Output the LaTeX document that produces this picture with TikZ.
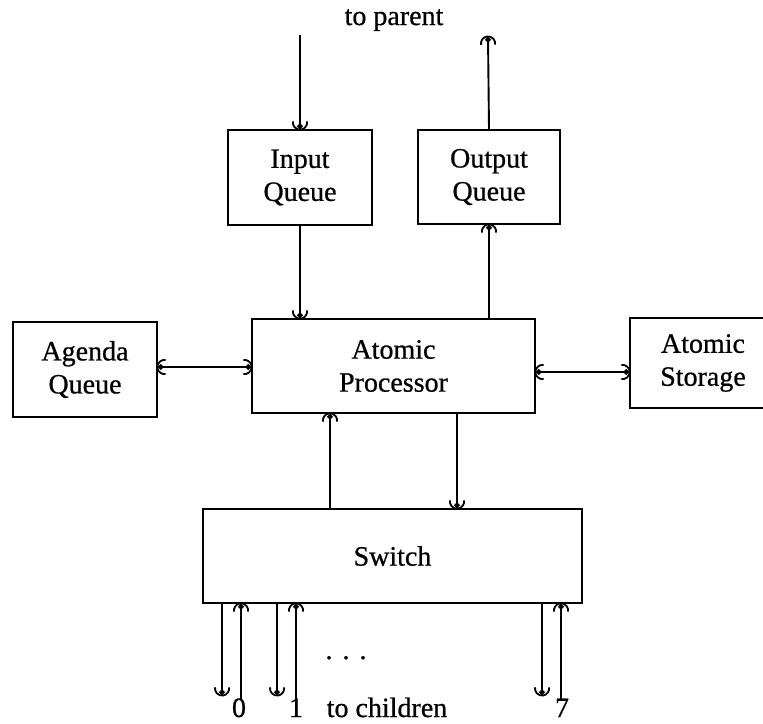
\documentclass[tikz,border=0pt]{standalone}
\usepackage{fontspec}
\setmainfont{Liberation Serif}
\newfontfamily\labelfont{Liberation Serif}[FakeBold=0.7]
\usetikzlibrary{arrows.meta,calc}

\tikzset{
  unit/.style={draw, line width=1.9pt, align=center, inner sep=0pt,
    font=\labelfont\fontsize{28}{33}\selectfont},
  lbl/.style={font=\labelfont\fontsize{28}{33}\selectfont, inner sep=0pt, anchor=base},
  fork/.tip={Arc Barb[length=8pt,arc=200,line width=1.8pt,sep=-7pt]Circle[length=5.5pt,width=5.5pt]},
  flow/.style={line width=1.9pt, -{fork}},
  flowboth/.style={line width=1.9pt, {fork}-{fork}},
}

\begin{document}
\begin{tikzpicture}[x=1pt,y=-1pt]
  \clip (0,0) rectangle (763,723);
  \fill[white] (0,0) rectangle (763,723);

  % processing units
  \node[unit, minimum width=144pt, minimum height=95pt] (inq) at (300,177.5) {Input\\Queue};
  \node[unit, minimum width=142pt, minimum height=94pt] (outq) at (489,177) {Output\\Queue};
  \node[unit, minimum width=283pt, minimum height=94pt] (proc) at (393.5,366) {Atomic\\Processor};
  \node[unit, minimum width=144pt, minimum height=95pt] (agenda) at (85,369.5) {Agenda\\Queue};
  \node[unit, minimum width=146pt, minimum height=90pt] (store) at (703,363) {Atomic\\Storage};
  \node[unit, minimum width=379pt, minimum height=94pt] (switch) at (392.5,556) {Switch};

  % link to the parent
  \node[lbl] (parent) at (394,25) {to parent};
  \coordinate (pin) at (300,35);
  \coordinate (pout) at (488,37);
  \draw[flow] (pin) -- (inq.north);
  \draw[flow] (outq.north) -- (pout);

  % queues and processor
  \draw[flow] (inq.south) -- (inq.south |- proc.north);
  \draw[flow] (outq.south |- proc.north) -- (outq.south);
  \draw[flowboth] (agenda.east |- 0,367) -- (proc.west |- 0,367);
  \draw[flowboth] (proc.east |- 0,372) -- (store.west |- 0,372);

  % processor and switch
  \coordinate (sp) at ([xshift=-63.5pt]proc.south);
  \coordinate (ps) at ([xshift=63.5pt]proc.south);
  \draw[flow] (sp |- switch.north) -- (sp);
  \draw[flow] (ps) -- (ps |- switch.north);

  % links to the children
  \foreach \n/\dx/\ux in {0/20/39, 1/75/94, 7/340/359} {
    \coordinate (dtop\n) at ([xshift=\dx pt]switch.south west);
    \coordinate (dend\n) at ([xshift=\dx pt]switch.south west |- 0,695);
    \coordinate (utop\n) at ([xshift=\ux pt]switch.south west);
    \coordinate (uend\n) at ([xshift=\ux pt]switch.south west |- 0,699);
    \draw[flow] (dtop\n) -- (dend\n);
    \draw[flow] (uend\n) -- (utop\n);
  }
  \node[lbl] (c0) at (239,717) {0};
  \node[lbl] (c1) at (296,717) {1};
  \node[lbl] (c7) at (562,717) {7};
  \node[lbl] (kids) at (387,717) {to children};
  \node[lbl] (dots) at (346,659) {.\hspace{10pt}.\hspace{10pt}.};
\end{tikzpicture}
\end{document}
